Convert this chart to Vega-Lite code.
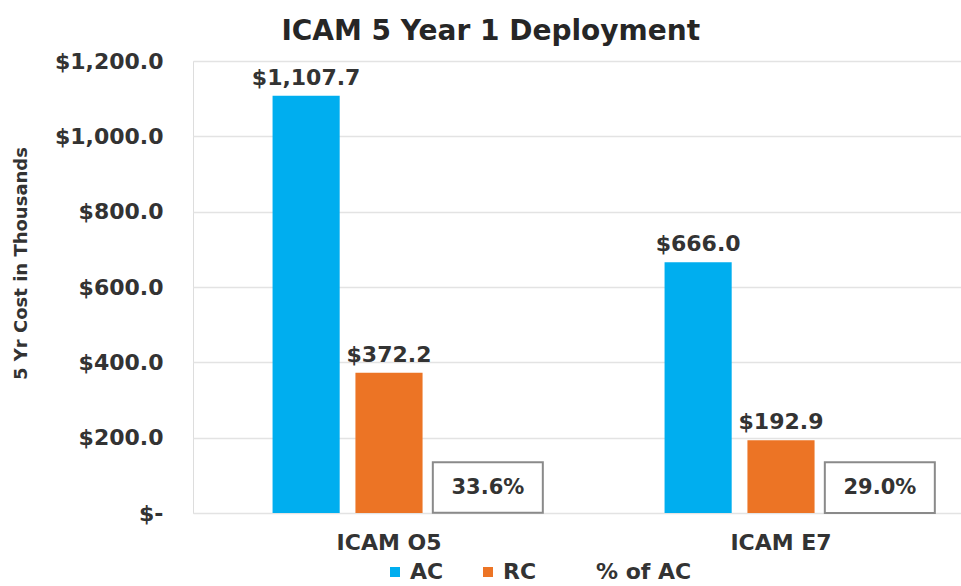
{
  "$schema": "https://vega.github.io/schema/vega-lite/v6.json",
  "autosize": "none",
  "padding": {"left": 193, "top": 61, "right": 0, "bottom": 73},
  "width": 768,
  "height": 452,
  "background": "white",
  "title": {
    "text": "ICAM 5 Year 1 Deployment",
    "font": "DejaVu Sans",
    "fontSize": 28,
    "fontWeight": "bold",
    "color": "#262626",
    "anchor": "middle",
    "frame": "bounds",
    "offset": 4,
    "dx": -4
  },
  "data": {
    "values": [
      {"group": "ICAM O5", "series": "AC", "value": 1107.7},
      {"group": "ICAM O5", "series": "RC", "value": 372.2},
      {"group": "ICAM O5", "series": "% of AC", "value": 0.336},
      {"group": "ICAM E7", "series": "AC", "value": 666.0},
      {"group": "ICAM E7", "series": "RC", "value": 192.9},
      {"group": "ICAM E7", "series": "% of AC", "value": 0.29}
    ]
  },
  "encoding": {
    "x": {
      "field": "group",
      "type": "nominal",
      "scale": {"domain": ["ICAM O5", "ICAM E7"], "range": [0, 784], "paddingInner": 0, "paddingOuter": 0},
      "axis": {
        "title": null,
        "labelAngle": 0,
        "domain": false,
        "ticks": false,
        "labelPadding": 19,
        "labelFont": "DejaVu Sans",
        "labelFontSize": 22,
        "labelFontWeight": "bold",
        "labelColor": "#333333"
      }
    },
    "xOffset": {
      "field": "series",
      "type": "nominal",
      "scale": {"domain": ["AC", "RC", "% of AC"], "paddingInner": 0.19, "paddingOuter": 0.96}
    },
    "y": {
      "field": "value",
      "type": "quantitative",
      "scale": {"domain": [0, 1200], "nice": false},
      "axis": {
        "title": "5 Yr Cost in Thousands",
        "titleFont": "DejaVu Sans",
        "titleFontSize": 18,
        "titleFontWeight": "bold",
        "titleColor": "#333333",
        "titlePadding": 24,
        "titleY": 202,
        "values": [0, 200, 400, 600, 800, 1000, 1200],
        "labelExpr": "datum.value == 0 ? '$-' : '$' + format(datum.value, ',.1f')",
        "labelFont": "DejaVu Sans",
        "labelFontSize": 22,
        "labelFontWeight": "bold",
        "labelColor": "#333333",
        "labelPadding": 30,
        "domain": false,
        "ticks": false,
        "grid": true,
        "gridColor": "#e3e3e3",
        "gridWidth": 1.5
      }
    }
  },
  "layer": [
    {
      "mark": {"type": "bar"},
      "encoding": {
        "color": {
          "field": "series",
          "type": "nominal",
          "scale": {"domain": ["AC", "RC", "% of AC"], "range": ["#00AEEF", "#EC7425", "white"]},
          "legend": {
            "title": null,
            "orient": "none",
            "legendX": 191,
            "legendY": 500,
            "direction": "horizontal",
            "symbolType": "square",
            "symbolSize": 100,
            "symbolStrokeWidth": 0,
            "labelFont": "DejaVu Sans",
            "labelFontSize": 22,
            "labelFontWeight": "bold",
            "labelColor": "#333333",
            "labelOffset": 4,
            "columnPadding": 33
          }
        }
      }
    },
    {
      "transform": [{"filter": "datum.series != '% of AC'"}],
      "mark": {
        "type": "text",
        "font": "DejaVu Sans",
        "fontSize": 22,
        "fontWeight": "bold",
        "color": "#333333",
        "baseline": "alphabetic",
        "dy": -11
      },
      "encoding": {
        "text": {"field": "value", "type": "quantitative", "format": "$,.1f"}
      }
    },
    {
      "transform": [{"filter": "datum.series == '% of AC'"}],
      "mark": {
        "type": "point",
        "shape": "M-0.71,-0.92H1.29V0H-0.71Z",
        "size": 12100,
        "filled": true,
        "fill": "white",
        "stroke": "#8a8a8a",
        "strokeWidth": 2,
        "opacity": 1
      },
      "encoding": {}
    },
    {
      "transform": [{"filter": "datum.series == '% of AC'"}],
      "mark": {
        "type": "text",
        "font": "DejaVu Sans",
        "fontSize": 21,
        "fontWeight": "bold",
        "color": "#333333",
        "baseline": "middle",
        "dy": -25,
        "dx": 16
      },
      "encoding": {
        "text": {"field": "value", "type": "quantitative", "format": ".1%"}
      }
    }
  ]
}
